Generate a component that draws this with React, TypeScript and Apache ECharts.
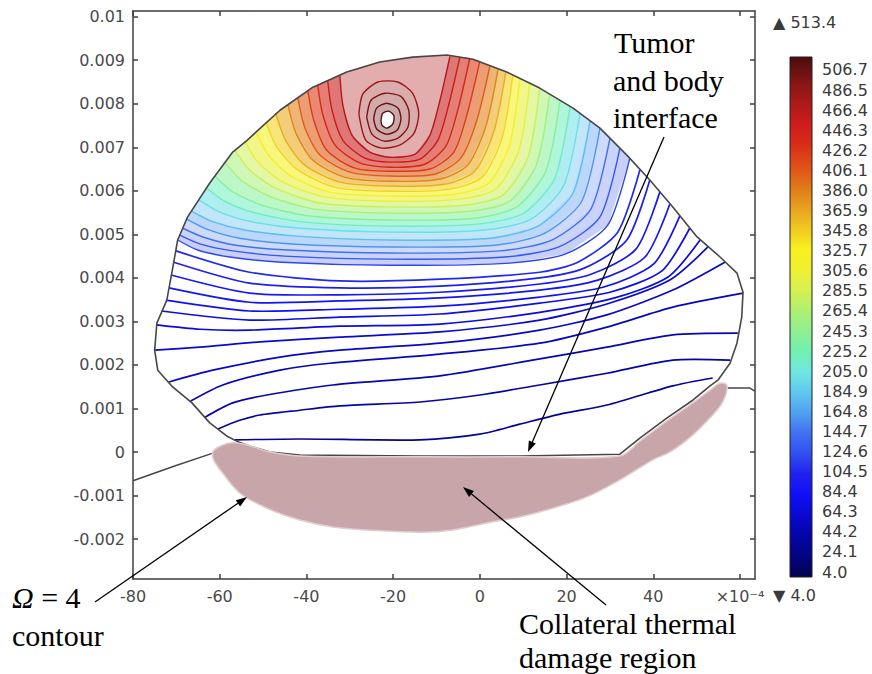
import React, { useEffect, useRef } from 'react';
import * as echarts from 'echarts';

// ---------- axes ----------
const X_MIN = -80;
const X_MAX = 63.46;
const Y_MIN = -2.916; // in 1e-3 m
const Y_MAX = 10.13;
const X_TICKS = [-80, -60, -40, -20, 0, 20, 40, 60];
const Y_TICKS = [-2, -1, 0, 1, 2, 3, 4, 5, 6, 7, 8, 9, 10];
const MM = 0.001;

// ---------- colour legend ----------
const T_MIN = 4.0;
const T_MAX = 513.4;
const COLORBAR_TICKS = [4.0, 24.1, 44.2, 64.3, 84.4, 104.5, 124.6, 144.7, 164.8, 184.9, 205.0, 225.2, 245.3, 265.4, 285.5, 305.6, 325.7, 345.8, 365.9, 386.0, 406.1, 426.2, 446.3, 466.4, 486.5, 506.7];
const COLOR_STOPS: [number, string][] = [
  [4, '#020250'], [24.1, '#030380'], [44.2, '#0505a8'], [64.3, '#0808d0'], [84.4, '#1010f8'],
  [104.5, '#2020f0'], [124.6, '#3050f0'], [144.7, '#4070f0'], [164.8, '#50a0f0'], [184.9, '#60c8f0'],
  [205.0, '#70e8e0'], [225.2, '#70f0b0'], [245.3, '#90f090'], [265.4, '#b0f070'], [285.5, '#d8f050'],
  [305.6, '#f0f030'], [325.7, '#f8f020'], [345.8, '#f0c820'], [365.9, '#e8a020'], [386.0, '#e07818'],
  [406.1, '#e05018'], [426.2, '#d83018'], [446.3, '#d01c1c'], [466.4, '#b01a1a'], [486.5, '#8a1515'],
  [506.7, '#5a0f0f'], [513.4, '#4a0c0c'],
];

// ---------- geometry (x in 1e-4 m, y in 1e-3 m) ----------
const TUMOR_DOME = [
  [-56.1, 0.25], [-58.4, 0.37], [-62.3, 0.67], [-66.4, 1.13], [-70.8, 1.49], [-74.3, 1.88], [-75.0, 2.34],
  [-74.5, 2.96], [-72.2, 3.49], [-70.8, 4.25], [-69.7, 4.87], [-67.4, 5.40], [-62.3, 6.18], [-57.0, 6.89],
  [-53.7, 7.16], [-46.1, 7.85], [-38.5, 8.38], [-30.7, 8.73], [-23.1, 8.96], [-15.5, 9.07], [-7.6, 9.12],
  [-1.6, 9.02], [6.2, 8.73], [13.8, 8.36], [21.5, 7.90], [27.7, 7.44], [33.9, 6.82], [39.2, 6.25],
  [44.5, 5.63], [50.1, 4.94], [55.4, 4.48], [59.3, 4.11], [60.7, 3.67], [60.4, 3.10], [59.3, 2.50],
  [57.7, 2.04], [54.9, 1.65], [53.1, 1.52],
];
const TUMOR_BASE = [
  [49.1, 1.19], [43.1, 0.78], [36.9, 0.32], [32.3, -0.05], [9.2, -0.09], [-13.8, -0.09], [-41.5, -0.07],
  [-48.4, 0], [-53.1, 0.14], [-56.1, 0.25],
];
const BODY_LEFT = [[-80, -0.66], [-70.4, -0.32], [-61.4, -0.02]];
const BODY_RIGHT = [[57.2, 1.47], [62.3, 1.47], [63.4, 1.4]];
const DAMAGE_REGION = [
  [-61.6, 0.0], [-60.4, 0.11], [-57.7, 0.21], [-54.2, 0.18], [-49.1, 0.02], [-41.5, -0.09], [-13.8, -0.11],
  [9.2, -0.11], [32.3, -0.09], [36.9, 0.25], [43.1, 0.71], [49.1, 1.13], [53.1, 1.42], [54.9, 1.56],
  [56.3, 1.58], [57.0, 1.52], [56.7, 1.31], [55.6, 1.08], [53.7, 0.85], [50.8, 0.55], [47.8, 0.28],
  [43.8, 0.0], [39.9, -0.18], [32.3, -0.64], [24.7, -1.03], [16.8, -1.29], [9.2, -1.49], [1.6, -1.63],
  [-6.2, -1.79], [-13.8, -1.84], [-26.1, -1.79], [-33.9, -1.72], [-41.5, -1.56], [-49.1, -1.29],
  [-55.4, -0.94], [-59.5, -0.46], [-61.4, -0.18],
];

// ---------- contour lines ----------
type Contour = { level: number; pts: number[][]; closed?: boolean };

const LOWER_CONTOURS: Contour[] = [
  { level: 35, pts: [[-56.5, 0.28], [-41.5, 0.30], [-13.8, 0.28], [0, 0.41], [9.2, 0.64], [18.5, 0.87], [29.3, 1.08], [44.5, 1.52], [53.7, 1.70]] },
  { level: 42, pts: [[-60.4, 0.53], [-55.4, 0.73], [-50.7, 0.85], [-41.5, 0.96], [-32.3, 1.06], [-13.8, 1.15], [0, 1.31], [13.8, 1.54], [29.3, 1.81], [44.5, 2.11], [57.7, 2.11]] },
  { level: 48, pts: [[-63.4, 0.80], [-57.0, 1.13], [-49.1, 1.31], [-33.9, 1.54], [-9.2, 1.75], [13.8, 2.14], [29.3, 2.41], [44.5, 2.69], [59.5, 2.73]] },
  { level: 54, pts: [[-66.7, 1.17], [-59.3, 1.54], [-46.1, 1.88], [-34.6, 2.04], [-9.2, 2.25], [13.8, 2.50], [29.3, 2.87], [44.5, 3.33], [60.7, 3.65]] },
  { level: 60, pts: [[-71.7, 1.61], [-61.6, 1.88], [-46.1, 2.18], [-32.3, 2.34], [-9.2, 2.50], [13.8, 2.80], [29.3, 3.15], [44.5, 3.72], [56.5, 4.36]] },
  { level: 66, pts: [[-75.0, 2.34], [-64.6, 2.41], [-50.7, 2.53], [-32.3, 2.64], [-9.2, 2.76], [13.8, 3.03], [29.3, 3.40], [43.8, 3.95], [52.6, 4.71]] },
  { level: 72, pts: [[-74.5, 2.92], [-64.6, 2.82], [-53.1, 2.80], [-32.3, 2.89], [-9.2, 2.94], [13.8, 3.21], [31.1, 3.54], [43.4, 4.02], [50.8, 4.87]] },
  { level: 78, pts: [[-73.4, 3.24], [-53.1, 3.03], [-32.3, 3.10], [-9.2, 3.17], [13.8, 3.42], [30.0, 3.67], [42.0, 4.16], [48.4, 5.14]] },
  { level: 84, pts: [[-72.4, 3.49], [-53.1, 3.24], [-32.3, 3.28], [-9.2, 3.35], [13.8, 3.56], [28.6, 3.79], [40.1, 4.32], [46.1, 5.42]] },
  { level: 90, pts: [[-71.7, 3.77], [-53.1, 3.44], [-32.3, 3.47], [-9.2, 3.54], [13.8, 3.72], [27.2, 3.95], [38.1, 4.48], [43.8, 5.69]] },
  { level: 96, pts: [[-71.0, 4.06], [-53.1, 3.65], [-32.3, 3.61], [-9.2, 3.67], [13.8, 3.86], [25.8, 4.09], [36.0, 4.66], [41.5, 5.97]] },
  { level: 102, pts: [[-70.6, 4.36], [-53.1, 3.88], [-32.3, 3.77], [-9.2, 3.81], [13.8, 4.00], [24.2, 4.23], [33.9, 4.87], [39.2, 6.25]] },
  { level: 108, pts: [[-70.1, 4.62], [-53.1, 4.13], [-32.3, 3.93], [-9.2, 3.97], [13.8, 4.13], [22.6, 4.36], [31.8, 5.05], [36.9, 6.48]] },
];

const BOWL_CONTOURS: Contour[] = [
  { level: 120, pts: [[-69.7, 4.87], [-65.1, 4.64], [-57.7, 4.48], [-45.7, 4.36], [-20.8, 4.29], [6.9, 4.34], [19.8, 4.55], [29.5, 5.21], [34.6, 6.75]] },
  { level: 130, pts: [[-69.2, 4.98], [-64.6, 4.78], [-57.0, 4.62], [-45.0, 4.50], [-20.8, 4.43], [5.8, 4.48], [18.2, 4.71], [27.7, 5.40], [32.3, 6.98]] },
  { level: 145, pts: [[-68.5, 5.14], [-63.9, 4.94], [-56.3, 4.75], [-44.3, 4.64], [-20.8, 4.57], [4.6, 4.62], [16.6, 4.87], [25.6, 5.58], [30.0, 7.21]] },
  { level: 160, pts: [[-67.6, 5.35], [-63.0, 5.12], [-55.4, 4.91], [-43.4, 4.78], [-20.8, 4.71], [3.5, 4.75], [15.0, 5.03], [23.5, 5.76], [27.7, 7.44]] },
  { level: 180, pts: [[-66.4, 5.53], [-61.8, 5.30], [-54.2, 5.10], [-42.4, 4.96], [-20.8, 4.87], [2.3, 4.91], [13.4, 5.19], [21.5, 5.95], [25.4, 7.60]] },
  { level: 200, pts: [[-64.8, 5.79], [-60.4, 5.53], [-53.1, 5.30], [-41.5, 5.14], [-20.8, 5.05], [1.2, 5.10], [11.8, 5.35], [19.4, 6.13], [23.1, 7.78]] },
  { level: 220, pts: [[-63.0, 6.06], [-58.8, 5.76], [-51.7, 5.49], [-40.4, 5.28], [-20.8, 5.19], [0, 5.24], [10.2, 5.49], [17.3, 6.29], [20.8, 7.94]] },
  { level: 240, pts: [[-61.1, 6.34], [-57.2, 5.99], [-50.3, 5.67], [-39.2, 5.42], [-20.8, 5.33], [-1.2, 5.37], [8.5, 5.63], [15.2, 6.45], [18.5, 8.08]] },
  { level: 260, pts: [[-58.8, 6.66], [-55.1, 6.25], [-48.7, 5.88], [-38.1, 5.58], [-20.8, 5.49], [-2.3, 5.53], [6.9, 5.76], [13.1, 6.61], [16.1, 8.22]] },
  { level: 280, pts: [[-56.5, 6.93], [-53.1, 6.48], [-47.1, 6.06], [-36.9, 5.72], [-20.8, 5.63], [-3.5, 5.67], [5.3, 5.90], [11.1, 6.77], [13.8, 8.36]] },
  { level: 300, pts: [[-54.2, 7.14], [-51.2, 6.66], [-45.4, 6.20], [-35.8, 5.86], [-20.8, 5.76], [-4.6, 5.81], [3.7, 6.04], [9.0, 6.93], [11.5, 8.47]] },
  { level: 320, pts: [[-51.7, 7.37], [-48.9, 6.84], [-43.6, 6.34], [-34.6, 5.97], [-20.8, 5.88], [-5.8, 5.92], [2.1, 6.18], [6.9, 7.07], [9.2, 8.56]] },
  { level: 340, pts: [[-49.4, 7.58], [-46.8, 7.00], [-42.0, 6.48], [-33.4, 6.08], [-20.8, 5.99], [-6.9, 6.04], [0.5, 6.31], [5.1, 7.21], [7.6, 8.66]] },
  { level: 360, pts: [[-47.1, 7.78], [-44.8, 7.16], [-40.4, 6.59], [-32.3, 6.20], [-20.8, 6.11], [-8.1, 6.15], [-1.2, 6.45], [3.2, 7.35], [6.0, 8.73]] },
  { level: 380, pts: [[-44.3, 7.99], [-42.4, 7.32], [-38.5, 6.70], [-31.1, 6.31], [-20.8, 6.22], [-9.2, 6.27], [-2.8, 6.59], [1.4, 7.49], [4.2, 8.79]] },
  { level: 400, pts: [[-42.0, 8.15], [-40.4, 7.46], [-36.9, 6.82], [-30.0, 6.43], [-20.8, 6.34], [-10.4, 6.38], [-4.4, 6.75], [-0.7, 7.62], [2.3, 8.86]] },
  { level: 420, pts: [[-39.7, 8.31], [-38.3, 7.62], [-35.3, 6.93], [-28.8, 6.52], [-20.8, 6.45], [-11.5, 6.50], [-6.0, 6.89], [-3.0, 7.74], [0, 8.98]] },
  { level: 435, pts: [[-37.4, 8.43], [-36.2, 7.74], [-33.4, 7.05], [-27.7, 6.64], [-20.8, 6.54], [-12.7, 6.61], [-7.8, 7.03], [-5.1, 7.85], [-2.3, 9.05]] },
  { level: 450, pts: [[-35.1, 8.54], [-34.1, 7.85], [-31.6, 7.16], [-26.5, 6.75], [-20.8, 6.66], [-13.8, 6.73], [-9.7, 7.16], [-7.2, 7.97], [-4.6, 9.07]] },
  { level: 465, pts: [[-32.3, 8.66], [-31.6, 7.97], [-29.5, 7.28], [-25.4, 6.89], [-20.8, 6.77], [-15.0, 6.84], [-11.5, 7.28], [-9.2, 8.08], [-6.9, 9.09]] },
];

const HOTSPOT_LOOPS: Contour[] = [
  { level: 478, closed: true, pts: [[-27.9, 7.76], [-27.0, 8.22], [-23.5, 8.50], [-18.9, 8.50], [-15.5, 8.24], [-14.1, 7.78], [-15.2, 7.32], [-18.5, 7.05], [-22.6, 6.98], [-26.3, 7.16]] },
  { level: 490, closed: true, pts: [[-26.1, 7.69], [-25.1, 8.08], [-21.9, 8.24], [-18.2, 8.17], [-16.4, 7.85], [-16.6, 7.46], [-18.9, 7.21], [-22.1, 7.14], [-24.9, 7.30]] },
  { level: 500, closed: true, pts: [[-24.5, 7.65], [-23.8, 7.90], [-21.5, 8.01], [-18.9, 7.90], [-18.2, 7.65], [-19.1, 7.39], [-21.5, 7.30], [-23.8, 7.42]] },
  { level: 508, closed: true, pts: [[-22.8, 7.62], [-22.4, 7.78], [-21.0, 7.83], [-19.8, 7.72], [-20.1, 7.53], [-21.5, 7.44], [-22.6, 7.51]] },
];

// ---------- helpers ----------
function hexRgb(h: string) {
  return [parseInt(h.slice(1, 3), 16), parseInt(h.slice(3, 5), 16), parseInt(h.slice(5, 7), 16)];
}
function levelRgb(v: number) {
  if (v <= COLOR_STOPS[0][0]) return hexRgb(COLOR_STOPS[0][1]);
  for (let i = 1; i < COLOR_STOPS.length; i++) {
    const [v1, c1] = COLOR_STOPS[i];
    if (v <= v1) {
      const [v0, c0] = COLOR_STOPS[i - 1];
      const t = (v - v0) / (v1 - v0);
      const a = hexRgb(c0), b = hexRgb(c1);
      return a.map((x, k) => x + (b[k] - x) * t);
    }
  }
  return hexRgb(COLOR_STOPS[COLOR_STOPS.length - 1][1]);
}
function rgbStr(c: number[]) {
  return `rgb(${c.map((x) => Math.round(x)).join(',')})`;
}
function lineColor(v: number) {
  return rgbStr(levelRgb(v));
}
function fillColor(v: number) {
  if (v >= 505) return '#ffffff';
  const f = v < 150 ? 0.74 : v < 200 ? 0.62 : v < 300 ? 0.45 : v < 460 ? 0.4 : 0.64;
  return rgbStr(levelRgb(v).map((x) => x * (1 - f) + 255 * f));
}
function nearestIdx(arr: number[][], p: number[]) {
  let best = 0, bd = Infinity;
  arr.forEach((q, i) => {
    const d = (q[0] - p[0]) ** 2 + (q[1] - p[1]) ** 2;
    if (d < bd) { bd = d; best = i; }
  });
  return best;
}
function afterDot(arr: number[][], k: number, p: number[]) {
  if (k >= arr.length - 1) return -1;
  const dx = arr[k + 1][0] - arr[k][0], dy = arr[k + 1][1] - arr[k][1];
  return dx * (p[0] - arr[k][0]) + dy * (p[1] - arr[k][1]);
}

const FILL_LIST: Contour[] = [...BOWL_CONTOURS, ...HOTSPOT_LOOPS];
const LINE_LIST: Contour[] = [...LOWER_CONTOURS, ...BOWL_CONTOURS, ...HOTSPOT_LOOPS];

const AXIS_COLOR = '#3f3f3f';
const LABEL = { color: '#4a4a4a', fontSize: 16, fontFamily: 'DejaVu Sans' };
const SERIF = '"Liberation Serif", "Times New Roman", serif';

const ANNOTATIONS = [
  { text: 'Tumor', x: 614, y: 42 },
  { text: 'and body', x: 613, y: 80 },
  { text: 'interface', x: 613, y: 117 },
  { text: 'Collateral thermal', x: 519, y: 623 },
  { text: 'damage region', x: 519, y: 657 },
  { text: '{i|Ω} = 4', x: 12, y: 597 },
  { text: 'contour', x: 12, y: 635 },
];
const ARROWS = [
  { from: [664, 137], to: [528, 452] },
  { from: [606, 605], to: [463, 487] },
  { from: [95, 602], to: [247, 497] },
];

function arrowGraphics() {
  const out: any[] = [];
  ARROWS.forEach(({ from, to }) => {
    const dx = to[0] - from[0], dy = to[1] - from[1];
    const len = Math.hypot(dx, dy);
    const ux = dx / len, uy = dy / len;
    const hl = 11, hw = 3.8;
    const bx = to[0] - ux * hl, by = to[1] - uy * hl;
    out.push({
      type: 'line', z: 20, silent: true,
      shape: { x1: from[0], y1: from[1], x2: bx, y2: by },
      style: { stroke: '#000', lineWidth: 1.3 },
    });
    out.push({
      type: 'polygon', z: 20, silent: true,
      shape: { points: [[to[0], to[1]], [bx - uy * hw, by + ux * hw], [bx + uy * hw, by - ux * hw]] },
      style: { fill: '#000' },
    });
  });
  return out;
}

function buildOption(): any {
  const gradient = new echarts.graphic.LinearGradient(
    0, 1, 0, 0,
    COLOR_STOPS.map(([v, c]) => ({ offset: (v - T_MIN) / (T_MAX - T_MIN), color: c }))
  );
  const axisLine = { show: true, onZero: false, lineStyle: { color: AXIS_COLOR, width: 1.5 } };
  return {
    animation: false,
    backgroundColor: '#ffffff',
    grid: [
      { left: 133, top: 11, width: 622, height: 568, show: false },
      { left: 790, top: 63.3, width: 22, height: 508.7, show: false },
    ],
    xAxis: [
      {
        type: 'value', gridIndex: 0, position: 'bottom', min: X_MIN, max: X_MAX,
        axisLine, splitLine: { show: false },
        axisTick: { show: true, inside: true, length: 5, customValues: X_TICKS, lineStyle: { color: AXIS_COLOR, width: 1.5 } },
        axisLabel: { ...LABEL, margin: 9, customValues: X_TICKS, formatter: (v: number) => (v === 60 ? '×10⁻⁴' : String(v)) },
      },
      {
        type: 'value', gridIndex: 0, position: 'top', min: X_MIN, max: X_MAX,
        axisLine, splitLine: { show: false },
        axisTick: { show: true, inside: true, length: 5, customValues: X_TICKS, lineStyle: { color: AXIS_COLOR, width: 1.5 } },
        axisLabel: { show: false },
      },
      { type: 'value', gridIndex: 1, show: false, min: 0, max: 1 },
    ],
    yAxis: [
      {
        type: 'value', gridIndex: 0, position: 'left', min: Y_MIN, max: Y_MAX,
        axisLine, splitLine: { show: false },
        axisTick: { show: true, inside: true, length: 5, customValues: Y_TICKS, lineStyle: { color: AXIS_COLOR, width: 1.5 } },
        axisLabel: { ...LABEL, margin: 8, customValues: Y_TICKS, formatter: (v: number) => String(parseFloat((v * MM).toFixed(4))) },
      },
      {
        type: 'value', gridIndex: 0, position: 'right', min: Y_MIN, max: Y_MAX,
        axisLine, splitLine: { show: false },
        axisTick: { show: true, inside: true, length: 5, customValues: Y_TICKS, lineStyle: { color: AXIS_COLOR, width: 1.5 } },
        axisLabel: { show: false },
      },
      {
        type: 'value', gridIndex: 1, position: 'right', min: T_MIN, max: T_MAX,
        axisLine: { show: false }, axisTick: { show: false }, splitLine: { show: false },
        axisLabel: { ...LABEL, color: '#3a3a3a', margin: 10, customValues: COLORBAR_TICKS, formatter: (v: number) => v.toFixed(1) },
      },
    ],
    series: [
      {
        type: 'custom', name: 'bands', xAxisIndex: 0, yAxisIndex: 0, z: 1, silent: true,
        data: FILL_LIST.map((c) => [c.pts[0][0], c.pts[0][1], c.level]),
        renderItem: (params: any, api: any) => {
          const c = FILL_LIST[params.dataIndex];
          const pts = c.pts.map((p) => api.coord(p));
          let poly = pts;
          if (!c.closed) {
            const dome = TUMOR_DOME.map((p) => api.coord(p));
            const a = pts[0], b = pts[pts.length - 1];
            let s = nearestIdx(dome, a);
            if (afterDot(dome, s, a) > 0) s += 1;
            let e = nearestIdx(dome, b);
            if (!(afterDot(dome, e, b) > 0)) e -= 1;
            const arc: number[][] = [];
            for (let k = e; k >= s; k--) arc.push(dome[k]);
            poly = pts.concat(arc);
          }
          return { type: 'polygon', shape: { points: poly }, style: { fill: fillColor(c.level), stroke: 'none' } };
        },
      },
      {
        type: 'custom', name: 'contours', xAxisIndex: 0, yAxisIndex: 0, z: 2, silent: true,
        data: LINE_LIST.map((c) => [c.pts[0][0], c.pts[0][1], c.level]),
        renderItem: (params: any, api: any) => {
          const c = LINE_LIST[params.dataIndex];
          const pts = c.pts.map((p) => api.coord(p));
          if (c.closed) pts.push(pts[0]);
          return {
            type: 'polyline',
            shape: { points: pts, smooth: 0.25 },
            style: { stroke: lineColor(c.level), lineWidth: c.level < 118 ? 1.7 : 1.4, fill: 'none' },
          };
        },
      },
      {
        type: 'line', name: 'tumor', xAxisIndex: 0, yAxisIndex: 0, z: 3, silent: true,
        data: [...TUMOR_DOME, ...TUMOR_BASE], symbol: 'none',
        lineStyle: { color: '#474747', width: 1.6 },
      },
      {
        type: 'line', name: 'bodyL', xAxisIndex: 0, yAxisIndex: 0, z: 3, silent: true,
        data: BODY_LEFT, symbol: 'none', lineStyle: { color: '#474747', width: 1.5 },
      },
      {
        type: 'line', name: 'bodyR', xAxisIndex: 0, yAxisIndex: 0, z: 3, silent: true,
        data: BODY_RIGHT, symbol: 'none', lineStyle: { color: '#474747', width: 1.5 },
      },
      {
        type: 'custom', name: 'damage', xAxisIndex: 0, yAxisIndex: 0, z: 4, silent: true,
        data: [DAMAGE_REGION[0]],
        renderItem: (_p: any, api: any) => ({
          type: 'polygon',
          shape: { points: DAMAGE_REGION.map((p) => api.coord(p)), smooth: 0.35 },
          style: { fill: '#c8a5a8', stroke: '#e2cdce', lineWidth: 1.5 },
        }),
      },
    ],
    graphic: [
      {
        type: 'rect', z: 5, silent: true,
        shape: { x: 790, y: 57, width: 22, height: 520 },
        style: { fill: gradient, stroke: '#222', lineWidth: 1 },
      },
      {
        type: 'text', z: 5, x: 773, y: 22, silent: true,
        style: { text: '▲ ' + T_MAX.toFixed(1), fill: '#3a3a3a', fontSize: 16, fontFamily: 'DejaVu Sans', verticalAlign: 'middle' },
      },
      {
        type: 'text', z: 5, x: 773, y: 595, silent: true,
        style: { text: '▼ ' + T_MIN.toFixed(1), fill: '#3a3a3a', fontSize: 16, fontFamily: 'DejaVu Sans', verticalAlign: 'middle' },
      },
      ...ANNOTATIONS.map((a) => ({
        type: 'text', z: 20, x: a.x, y: a.y, silent: true,
        style: {
          text: a.text, fill: '#000', fontSize: 30, lineHeight: 30, fontFamily: SERIF, verticalAlign: 'middle',
          rich: { i: { fontStyle: 'italic', fontSize: 30, lineHeight: 30, fontFamily: SERIF } },
        },
      })),
      ...arrowGraphics(),
    ],
  };
}

export default function App() {
  const ref = useRef<HTMLDivElement>(null);
  useEffect(() => {
    const chart = echarts.init(ref.current!, null, { renderer: 'svg' });
    chart.setOption(buildOption());
    return () => chart.dispose();
  }, []);
  return (
    <div
      ref={ref}
      style={{ position: 'absolute', left: 0, top: 0, width: 872, height: 674, background: '#fff' }}
    />
  );
}
